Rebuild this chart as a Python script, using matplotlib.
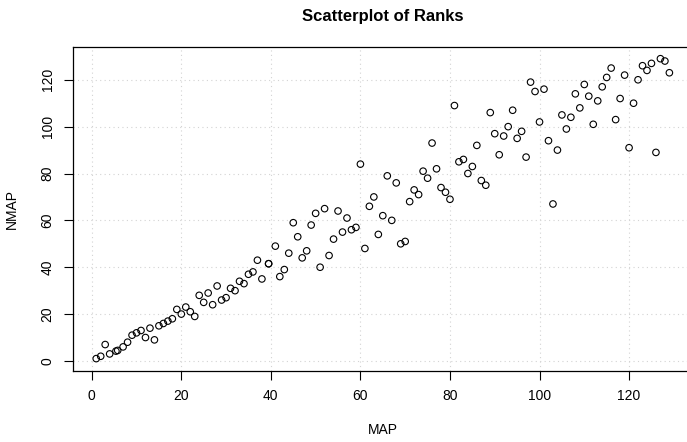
import numpy as np
import matplotlib
matplotlib.use('Agg')
import matplotlib.pyplot as plt

# ranks
map_rank = [1, 2, 3, 4, 5.4, 5.8, 7, 8, 9, 10, 11, 12, 13, 14, 15, 16, 17, 18, 19, 20,
            21, 22, 23, 24, 25, 26, 27, 28, 29, 30, 31, 32, 33, 34, 35, 36, 37, 38,
            39.5, 39.5, 41, 42, 43, 44, 45, 46, 47, 48, 49, 50, 51, 52, 53, 54, 55,
            56, 57, 58, 59, 60, 61, 62, 63, 64, 65, 66, 67, 68, 69, 70, 71, 72, 73,
            74, 75, 76, 77, 78, 79, 80, 81, 82, 83, 84, 85, 86, 87, 88, 89, 90, 91,
            92, 93, 94, 95, 96, 97, 98, 99, 100, 101, 102, 103, 104, 105, 106, 107,
            108, 109, 110, 111, 112, 113, 114, 115, 116, 117, 118, 119, 120, 121,
            122, 123, 124, 125, 126, 127, 128, 129]
nmap_rank = [1, 2, 7, 3, 4.2, 4.5, 6, 8, 11, 12, 13, 10, 14, 9, 15, 16, 17, 18, 22, 20,
             23, 21, 19, 28, 25, 29, 24, 32, 26, 27, 31, 30, 34, 33, 37, 38, 43, 35,
             41.5, 41.5, 49, 36, 39, 46, 59, 53, 44, 47, 58, 63, 40, 65, 45, 52, 64,
             55, 61, 56, 57, 84, 48, 66, 70, 54, 62, 79, 60, 76, 50, 51, 68, 73, 71,
             81, 78, 93, 82, 74, 72, 69, 109, 85, 86, 80, 83, 92, 77, 75, 106, 97, 88,
             96, 100, 107, 95, 98, 87, 119, 115, 102, 116, 94, 67, 90, 105, 99, 104,
             114, 108, 118, 113, 101, 111, 117, 121, 125, 103, 112, 122, 91, 110,
             120, 126, 124, 127, 89, 129, 128, 123]

ticks = [0, 20, 40, 60, 80, 100, 120]

plt.rcParams['font.family'] = ['Liberation Sans', 'DejaVu Sans']

W, H = 687, 442
fig = plt.figure(figsize=(W / 100, H / 100), dpi=100)
left, right, top, bottom = 73.3, 692.3, 46.7, 370.6
ax = fig.add_axes([left / W, 1 - bottom / H, (right - left) / W, (bottom - top) / H])

# grid first so points sit on top
for t in ticks:
    ax.axvline(t, color='#D3D3D3', lw=0.8, ls=(0, (1, 3)), zorder=0)
    ax.axhline(t, color='#D3D3D3', lw=0.8, ls=(0, (1, 3)), zorder=0)

ax.scatter(map_rank, nmap_rank, s=22, facecolors='none', edgecolors='black',
           linewidths=0.8, zorder=3)

ax.set_xlim(-4.12, 134.12)
ax.set_ylim(-4.12, 134.12)
ax.set_xticks(ticks)
ax.set_yticks(ticks)
ax.tick_params(direction='out', length=6.5, width=0.8, labelsize=10, pad=7)
for lab in ax.get_yticklabels():
    lab.set_rotation(90)
    lab.set_va('center')
for sp in ax.spines.values():
    sp.set_linewidth(0.9)

cx = (left + right) / 2 / W
fig.text(cx, 1 - 17 / H, 'Scatterplot of Ranks', ha='center', va='center',
         fontsize=12, fontweight='bold')
fig.text(cx, 1 - 430 / H, 'MAP', ha='center', va='center', fontsize=10)
fig.text(12 / W, 1 - (top + bottom) / 2 / H, 'NMAP', ha='center', va='center',
         rotation=90, fontsize=10)

fig.savefig('out.png', dpi=100)
